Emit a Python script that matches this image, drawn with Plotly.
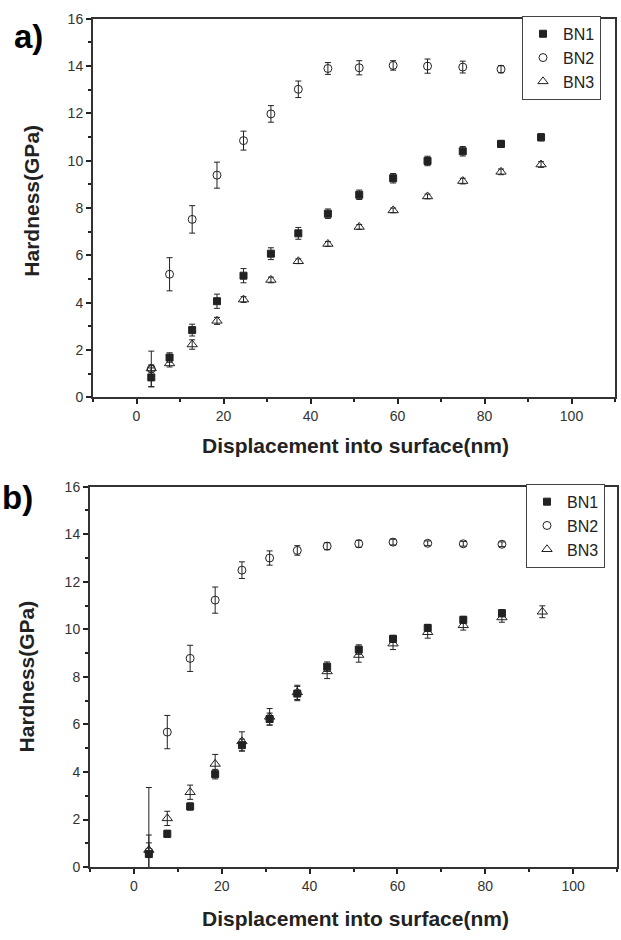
import plotly.graph_objects as go

# ---- data ----
depth = [3.4, 7.6, 12.8, 18.5, 24.6, 30.9, 37.2, 44.0, 51.2, 59.0, 66.9, 75.0, 83.8, 93.0]

# panel a
a_bn1 = [0.84, 1.68, 2.84, 4.06, 5.14, 6.07, 6.93, 7.76, 8.56, 9.26, 9.99, 10.40, 10.71, 10.99]
a_bn1_err = [0.4, 0.2, 0.25, 0.3, 0.3, 0.25, 0.25, 0.2, 0.2, 0.2, 0.2, 0.2, 0.15, 0.15]
a_bn2 = [1.2, 5.2, 7.52, 9.39, 10.85, 11.98, 13.02, 13.9, 13.93, 14.03, 14.0, 13.96, 13.87]
a_bn2_err = [0.75, 0.7, 0.58, 0.55, 0.4, 0.35, 0.35, 0.25, 0.3, 0.2, 0.3, 0.25, 0.15]
a_bn3 = [1.22, 1.43, 2.23, 3.23, 4.13, 4.96, 5.75, 6.48, 7.2, 7.9, 8.49, 9.14, 9.53, 9.84]
a_bn3_err = [0.15, 0.15, 0.2, 0.15, 0.12, 0.12, 0.1, 0.1, 0.1, 0.1, 0.1, 0.12, 0.12, 0.12]

# panel b
b_bn1 = [0.55, 1.4, 2.55, 3.91, 5.13, 6.23, 7.3, 8.43, 9.15, 9.6, 10.06, 10.4, 10.68]
b_bn1_err = [0.8, 0.15, 0.15, 0.2, 0.25, 0.25, 0.3, 0.2, 0.2, 0.15, 0.15, 0.15, 0.15]
b_bn2 = [0.65, 5.68, 8.78, 11.23, 12.49, 13.0, 13.32, 13.5, 13.6, 13.67, 13.62, 13.6, 13.58]
b_bn2_err = [2.7, 0.7, 0.55, 0.55, 0.35, 0.3, 0.2, 0.15, 0.15, 0.12, 0.1, 0.1, 0.1]
b_bn3 = [0.72, 2.05, 3.15, 4.34, 5.29, 6.32, 7.35, 8.23, 8.92, 9.4, 9.88, 10.17, 10.5, 10.74]
b_bn3_err = [0.3, 0.3, 0.3, 0.4, 0.4, 0.35, 0.3, 0.3, 0.3, 0.25, 0.25, 0.2, 0.2, 0.25]

series_names = ["BN1", "BN2", "BN3"]
x_ticks = [0, 20, 40, 60, 80, 100]
y_ticks = [0, 2, 4, 6, 8, 10, 12, 14, 16]

FONT = "Liberation Sans, Arial, sans-serif"
INK = "#222222"

styles = [
    dict(symbol="square", size=7, color=INK, line=dict(color=INK, width=1)),
    dict(symbol="circle-open", size=8, color=INK, line=dict(color=INK, width=1)),
    dict(symbol="triangle-up-open", size=9, color=INK, line=dict(color=INK, width=1)),
]

fig = go.Figure()

def add_panel(vals, errs, xa, ya, legend):
    for name, v, e, st in zip(series_names, vals, errs, styles):
        fig.add_trace(go.Scatter(
            x=depth[:len(v)], y=v, mode="markers", name=name,
            marker=st,
            error_y=dict(type="data", array=e, visible=True, color=INK,
                         thickness=1, width=3),
            xaxis=xa, yaxis=ya, legend=legend,
            cliponaxis=True,
        ))

add_panel([a_bn1, a_bn2, a_bn3], [a_bn1_err, a_bn2_err, a_bn3_err], "x", "y", "legend")
add_panel([b_bn1, b_bn2, b_bn3], [b_bn1_err, b_bn2_err, b_bn3_err], "x2", "y2", "legend2")

W, H = 621, 940
TICKFONT = dict(family=FONT, size=14, color="#333333")

def xax(domain, anchor):
    return dict(domain=domain, anchor=anchor, range=[-10, 110],
                tickvals=x_ticks, ticks="outside", ticklen=5, tickwidth=1.5,
                tickcolor=INK, minor=dict(dtick=10, tick0=0, ticks="outside", ticklen=3,
                                          tickcolor=INK, tickwidth=1.5),
                showline=True, linecolor="#333333", linewidth=2, mirror=True,
                showgrid=False, zeroline=False, tickfont=TICKFONT)

def yax(domain, anchor):
    return dict(domain=domain, anchor=anchor, range=[0, 16],
                tickvals=y_ticks, ticks="outside", ticklen=5, tickwidth=1.5,
                tickcolor=INK, minor=dict(dtick=1, tick0=0, ticks="outside", ticklen=3,
                                          tickcolor=INK, tickwidth=1.5),
                showline=True, linecolor="#333333", linewidth=2, mirror=True,
                showgrid=False, zeroline=False, tickfont=TICKFONT)

legend_style = dict(bgcolor="white", bordercolor="#444444", borderwidth=1,
                    font=dict(family=FONT, size=16, color=INK),
                    xanchor="left", yanchor="top", itemwidth=30,
                    tracegroupgap=0)

fig.update_layout(
    width=W, height=H,
    margin=dict(l=0, r=0, t=0, b=0),
    paper_bgcolor="white", plot_bgcolor="white",
    showlegend=True,
    xaxis=xax([93 / W, 615 / W], "y"),
    yaxis=yax([1 - 396 / H, 1 - 11 / H], "x"),
    xaxis2=xax([90 / W, 617 / W], "y2"),
    yaxis2=yax([1 - 874 / H, 1 - 487 / H], "x2"),
    legend=dict(x=522 / W, y=1 - 8 / H, **legend_style),
    legend2=dict(x=526 / W, y=1 - 484 / H, **legend_style),
)

title_font = dict(family=FONT, size=21, color=INK)
annots = [
    dict(text="<b>a)</b>", x=28, y=29, font=dict(family=FONT, size=33, color="black")),
    dict(text="<b>b)</b>", x=17, y=498, font=dict(family=FONT, size=33, color="black")),
    dict(text="<b>Hardness(GPa)</b>", x=32, y=196, textangle=-90, font=title_font),
    dict(text="<b>Hardness(GPa)</b>", x=26, y=680, textangle=-90, font=title_font),
    dict(text="<b>Displacement into surface(nm)</b>", x=355, y=445, font=title_font),
    dict(text="<b>Displacement into surface(nm)</b>", x=355, y=926, font=title_font),
]
for a in annots:
    fig.add_annotation(text=a["text"], x=a["x"] / W, y=1 - a["y"] / H,
                       xref="paper", yref="paper", showarrow=False,
                       xanchor="center", yanchor="middle",
                       textangle=a.get("textangle", 0), font=a["font"])

fig.write_html("out.html")
